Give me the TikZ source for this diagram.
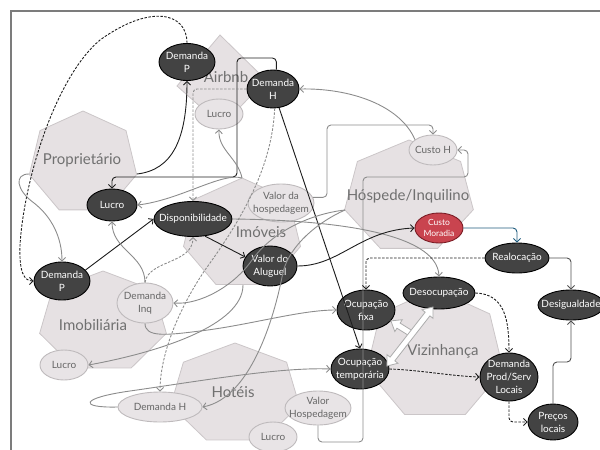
\documentclass[tikz,border=0pt]{standalone}
\usepackage{fontspec}
\setmainfont{Lato}
\usetikzlibrary{shapes.geometric, arrows.meta}

\definecolor{heptfill}{HTML}{E6E1E3}
\definecolor{heptdraw}{HTML}{CBC6C8}
\definecolor{heptlabel}{HTML}{707070}
\definecolor{ltfill}{HTML}{E8E4E6}
\definecolor{ltdraw}{HTML}{BEBABC}
\definecolor{lttext}{HTML}{666666}
\definecolor{dkfill}{HTML}{434343}
\definecolor{redfill}{HTML}{C9444F}
\definecolor{reddraw}{HTML}{7A1C24}
\definecolor{wiregray}{HTML}{8C8C8C}
\definecolor{wiredark}{HTML}{1E1E1E}
\definecolor{wiremid}{HTML}{505050}
\definecolor{wireblue}{HTML}{1F5C7E}
\definecolor{framegray}{HTML}{7C7C7C}

\tikzset{
  hept/.style={fill=heptfill, draw=heptdraw, line width=0.8pt},
  heptlbl/.style={text=heptlabel, font=\fontsize{15}{17}\selectfont, inner sep=0pt},
  nodefont/.style={font=\fontsize{10}{13}\selectfont},
  dk/.style={ellipse, draw=black, line width=0.9pt, fill=dkfill, text=white,
    inner xsep=-30pt, inner ysep=-20pt, align=center, nodefont},
  lt/.style={ellipse, draw=ltdraw, line width=0.9pt, fill=ltfill, text=lttext,
    inner xsep=-30pt, inner ysep=-20pt, align=center, nodefont},
  rd/.style={dk, fill=redfill, draw=reddraw, font=\fontsize{8.5}{11.5}\selectfont},
  sz/.style 2 args={minimum width=#1pt, minimum height=#2pt},
  tip/.style={-{Straight Barb[length=3.5pt,width=7pt]}},
  gw/.style={tip, draw=wiregray, line width=0.9pt},
  gwd/.style={gw, dash pattern=on 2.5pt off 1.5pt},
  bw/.style={tip, draw=wiredark, line width=0.9pt},
  bwd/.style={bw, dash pattern=on 2.5pt off 1.5pt},
  mw/.style={tip, draw=wiremid, line width=0.9pt},
  hollow/.style={fill=white, draw=gray!65, line width=0.8pt},
}

% heptagon with centre (#1,#2) and radii #3, #4, one vertex on top
\newcommand\heptshape[4]{%
  \draw[hept, shift={(#1,#2)}] (-90:#3 and #4)
    \foreach \k in {1,...,6}{ -- ({-90+\k*360/7}:#3 and #4)} -- cycle;}

\begin{document}
\begin{tikzpicture}[x=1pt, y=-1pt]
\useasboundingbox (0,0) rectangle (600,450);
\clip (0,0) rectangle (600,450);

% frame
\draw[framegray, line width=1.3pt] (11,470) -- (11,11) -- (620,11);

% actor areas
\draw[hept] (220,35) -- (266,80) -- (222,126) -- (177,86) -- cycle;
\heptshape{83}{163}{55}{52}
\heptshape{242}{234}{60}{56}
\heptshape{409}{197}{66}{57}
\heptshape{103}{322}{65}{51}
\heptshape{235}{394}{66}{51}
\heptshape{435}{355}{70}{66}

\node[heptlbl] (lblAirbnb) at (226,77) {Airbnb};
\node[heptlbl] (lblProp) at (82,160) {Proprietário};
\node[heptlbl] (lblImov) at (261,232) {Imóveis};
\node[heptlbl] (lblHosp) at (408,196) {Hóspede/Inquilino};
\node[heptlbl] (lblImob) at (93,325) {Imobiliária};
\node[heptlbl] (lblHot) at (233,392) {Hotéis};
\node[heptlbl] (lblViz) at (443,351) {Vizinhança};

\coordinate (propR) at (137,174);
\coordinate (propL) at (29,174);
\coordinate (imoTop) at (242,178);
\coordinate (imoBot) at (243,285);
\coordinate (hospL) at (345,210);

% variables
\node[dk, sz={56}{37}] (dmP1) at (187,62) {Demanda\\P};
\node[dk, sz={52}{38}] (dmH1) at (273,89) {Demanda\\H};
\node[dk, sz={50}{32}] (lucroP) at (112,205) {Lucro};
\node[dk, sz={78}{35}] (disp) at (193,219) {Disponibilidade};
\node[dk, sz={54}{40}] (valAlug) at (270,266) {Valor do\\Aluguel};
\node[dk, sz={56}{38}] (dmP2) at (62,281) {Demanda\\P};
\node[dk, sz={58}{40}] (ocFixa) at (366,310) {Ocupação\\fixa};
\node[dk, sz={58}{40}] (ocTemp) at (360,369) {Ocupação\\temporária};
\node[dk, sz={72}{32}] (desoc) at (439,293) {Desocupação};
\node[dk, sz={64}{30}] (realoc) at (517,258) {Realocação};
\node[dk, sz={66}{30}] (desig) at (571,305) {Desigualdade};
\node[dk, sz={58}{48}] (dmProd) at (509,377) {Demanda\\Prod/Serv\\Locais};
\node[dk, sz={50}{36}] (precos) at (553,422) {Preços\\locais};
\node[rd, sz={48}{30}] (custoM) at (439,228) {Custo\\Moradia};

\node[lt, sz={48}{30}] (lucroA) at (219,114) {Lucro};
\node[lt, sz={48}{30}] (custoH) at (433,150) {Custo H};
\node[lt, sz={66}{38}] (valHosp1) at (281,203) {Valor da\\hospedagem};
\node[lt, sz={56}{40}] (dmInq) at (145,303) {Demanda\\Inq};
\node[lt, sz={48}{30}] (lucroI) at (64,365) {Lucro};
\node[lt, sz={84}{30}] (dmH2) at (160,407) {Demanda H};
\node[lt, sz={66}{34}] (valHosp2) at (318,408) {Valor\\Hospedagem};
\node[lt, sz={48}{30}] (lucroH) at (273,437) {Lucro};

% links
\draw[bwd] (dmP1.north) .. controls (187,12) and (150,4) .. (100,40)
  .. controls (55,78) and (24,180) .. (20,245)
  .. controls (19,272) and (24,281) .. (dmP2.west);
\draw[bw] (propR) .. controls (172,170) and (187,140) .. (dmP1.south);
\draw[bw, rounded corners=4pt] (dmH1.80) |- (237,58) -- (237,177) -| (lucroP.north);
\draw[gwd, rounded corners=4pt] (dmH1.west) -| (disp.north);
\draw[gwd] (dmH1.-85) .. controls (272,165) and (245,215) .. (205,270)
  .. controls (178,310) and (160,355) .. (dmH2.north);
\draw[bw] (dmH1.-72) -- (ocTemp.north);
\draw[gw] (custoH.150) .. controls (400,105) and (350,88) .. (dmH1.east);
\draw[gw, rounded corners=4pt] (valHosp1.10) -| (327,125) -| (custoH.north);
\draw[gw, rounded corners=4pt] (valHosp2.south) |- (363,442) -- (363,177)
  -| (468,150) -- (custoH.east);
\draw[gw] (imoTop) .. controls (238,158) and (218,150) .. (lucroA.south);
\draw[gw] (imoTop) .. controls (222,172) and (180,200) .. (lucroP.east);
\draw[gw] (propL) .. controls (14,174) and (16,190) .. (34,203)
  .. controls (52,217) and (62,238) .. (dmP2.north);
\draw[bw] (dmP2.25) -- (disp.west);
\draw[gw] (dmInq.north) .. controls (145,255) and (112,250) .. (lucroP.south);
\draw[gwd] (dmInq.north) .. controls (148,260) and (193,264) .. (disp.south);
\draw[gw] (disp.east) .. controls (330,220) and (437,232) .. (desoc.north);
\draw[bw] (disp.-55) -- (valAlug.160);
\draw[bw] (valAlug.east) .. controls (340,266) and (360,230) .. (custoM.west);
\draw[tip, draw=wireblue, line width=0.9pt, rounded corners=4pt] (custoM.east) -| (realoc.north);
\draw[mw, rounded corners=4pt] (realoc.east) -| (desig.north);
\draw[bwd, rounded corners=4pt] (realoc.west) -| (ocFixa.north);
\draw[bwd] (desoc.east) .. controls (505,294) and (509,320) .. (dmProd.north);
\draw[bwd] (ocTemp.east) .. controls (420,370) and (450,376) .. (dmProd.west);
\draw[bwd, rounded corners=4pt] (dmProd.south) |- (precos.west);
\draw[mw, rounded corners=4pt] (precos.north) |- (571,362) -- (desig.south);
\draw[gw] (dmInq.south) .. controls (145,338) and (168,335) .. (200,331)
  .. controls (250,325) and (300,310) .. (ocFixa.west);
\draw[gw] (dmH2.west) .. controls (78,408) and (80,398) .. (130,391)
  .. controls (200,381) and (280,367) .. (ocTemp.west);
\draw[gw] (imoBot) .. controls (243,325) and (160,352) .. (lucroI.east);
\draw[gw] (hospL) .. controls (310,214) and (272,232) .. (252,260)
  .. controls (234,286) and (200,305) .. (dmInq.east);
\draw[gw] (hospL) .. controls (318,222) and (290,245) .. (283,272)
  .. controls (274,320) and (250,398) .. (dmH2.east);

% hollow arrows between occupation and vacancy
\begin{scope}[shift={(401.5,327.5)}, rotate=148, x=1pt, y=1pt]
  \draw[hollow] (-12.5,3) -- (3.5,3) -- (3.5,7) -- (12.5,0) -- (3.5,-7)
    -- (3.5,-3) -- (-12.5,-3) -- cycle;
\end{scope}
\begin{scope}[shift={(410,336.5)}, rotate=52, x=1pt, y=1pt]
  \draw[hollow] (-37.5,0) -- (-28.5,7) -- (-28.5,3) -- (28.5,3) -- (28.5,7)
    -- (37.5,0) -- (28.5,-7) -- (28.5,-3) -- (-28.5,-3) -- (-28.5,-7) -- cycle;
\end{scope}
\end{tikzpicture}
\end{document}
